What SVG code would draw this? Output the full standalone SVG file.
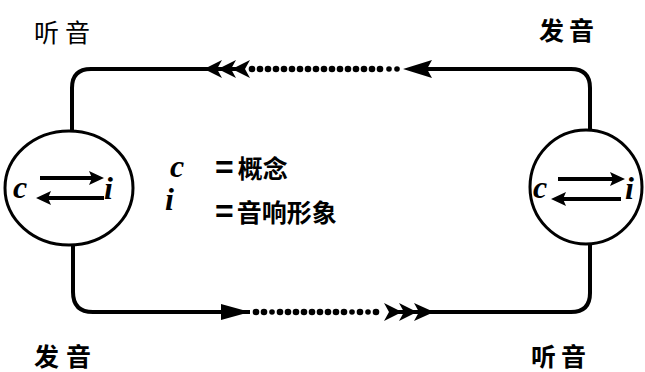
<svg xmlns="http://www.w3.org/2000/svg" width="645" height="372" viewBox="0 0 645 372">
<style>
.ln{fill:none;stroke:#000;stroke-width:4;stroke-linecap:round}
.circ{fill:#fff;stroke:#000;stroke-width:3}
.in{stroke:#000;stroke-width:4;fill:none}
.hd{fill:#000}
.lbl{font-family:"Noto Sans CJK SC","Noto Sans",sans-serif;font-size:25px;fill:#000}
.b{font-weight:bold}
.v{font-family:"Liberation Serif",serif;font-style:italic;font-weight:bold;font-size:32px;fill:#000}
.eq{font-family:"Liberation Sans",sans-serif;font-weight:bold;font-size:32px}
</style>
<g id="connectors">
<path class="ln" d="M72,132 L72,88 Q72,69 91,69 L571,69 Q590,69 590,88 L590,130"/>
<path class="ln" d="M73,245 L73,292 Q73,312 93,312 L571,312 Q590,312 590,293 L590,245"/>
<rect x="244" y="63" width="166" height="12" fill="#fff"/>
<g class="hd">
<circle cx="252" cy="69" r="3.3"/><circle cx="260" cy="69" r="3.3"/><circle cx="268" cy="69" r="3.3"/><circle cx="276" cy="69" r="3.3"/><circle cx="284" cy="69" r="3.3"/><circle cx="292" cy="69" r="3.3"/><circle cx="300" cy="69" r="3.3"/><circle cx="308" cy="69" r="3.3"/><circle cx="316" cy="69" r="3.3"/><circle cx="324" cy="69" r="3.3"/><circle cx="332" cy="69" r="3.3"/><circle cx="340" cy="69" r="3.3"/><circle cx="348" cy="69" r="3.3"/><circle cx="356" cy="69" r="3.3"/><circle cx="364" cy="69" r="3.3"/><circle cx="372" cy="69" r="3.3"/><circle cx="380" cy="69" r="3.3"/><circle cx="389" cy="69" r="2.8"/><circle cx="397" cy="69" r="2.8"/>
<path d="M403,69 L432,60 L427,69 L432,78 Z"/>
<rect x="420" y="67" width="20" height="4"/>
<path d="M204,69 L222,60 L217,69 L222,78 Z"/>
<path d="M218,69 L236,60 L231,69 L236,78 Z"/>
<path d="M232,69 L250,60 L245,69 L250,78 Z"/>
</g>
<rect x="250" y="306" width="140" height="12" fill="#fff"/>
<g class="hd">
<path d="M221,304 L250,312 L221,320 Z"/>
<circle cx="256" cy="312" r="3.3"/><circle cx="264" cy="312" r="3.3"/><circle cx="272" cy="312" r="2.8"/><circle cx="280" cy="312" r="3.3"/><circle cx="288" cy="312" r="3.3"/><circle cx="296" cy="312" r="3.3"/><circle cx="304" cy="312" r="3.3"/><circle cx="312" cy="312" r="3.3"/><circle cx="320" cy="312" r="3.3"/><circle cx="328" cy="312" r="3.3"/><circle cx="336" cy="312" r="3.3"/><circle cx="344" cy="312" r="3.3"/><circle cx="352" cy="312" r="2.8"/><circle cx="360" cy="312" r="3.3"/><circle cx="368" cy="312" r="2.8"/><circle cx="376" cy="312" r="3.3"/>
<path d="M402,312 L384,303 L389,312 L384,321 Z"/>
<path d="M417,312 L399,303 L404,312 L399,321 Z"/>
<path d="M434,312 L414,303 L419,312 L414,321 Z"/>
</g>
</g>
<g id="node-left">
<ellipse class="circ" cx="69" cy="188" rx="64" ry="57"/>
<text class="v" x="13" y="198">c</text>
<line class="in" x1="40" y1="178" x2="94" y2="178"/>
<path class="hd" d="M104,178 L89,171 L92,178 L89,185 Z"/>
<line class="in" x1="48" y1="198" x2="104" y2="198"/>
<path class="hd" d="M36,198 L51,191 L48,198 L51,205 Z"/>
<text class="v" x="104" y="199">i</text>
</g>
<g id="node-right">
<ellipse class="circ" cx="586" cy="187" rx="56" ry="57"/>
<text class="v" x="533" y="198">c</text>
<line class="in" x1="558" y1="179" x2="616" y2="179"/>
<path class="hd" d="M625,179 L610,172 L613,179 L610,186 Z"/>
<line class="in" x1="563" y1="199" x2="621" y2="199"/>
<path class="hd" d="M551,199 L566,192 L563,199 L566,206 Z"/>
<text class="v" x="625" y="199">i</text>
</g>
<g id="legend">
<text class="v" x="170" y="177" font-size="28">c</text>
<text class="lbl b" x="215" y="178" font-size="27"><tspan class="eq" dx="0" letter-spacing="4">=</tspan>概念</text>
<text class="v" x="165" y="210" font-size="26">i</text>
<text class="lbl b" x="215" y="222" font-size="26"><tspan class="eq" letter-spacing="3">=</tspan>音响形象</text>
</g>
<g id="label-tl"><text class="lbl" x="34" y="42" letter-spacing="6">听音</text></g>
<g id="label-tr"><text class="lbl b" x="539" y="40" letter-spacing="5">发音</text></g>
<g id="label-bl"><text class="lbl b" x="34" y="366" letter-spacing="7">发音</text></g>
<g id="label-br"><text class="lbl b" x="531" y="366" letter-spacing="5">听音</text></g>
</svg>
